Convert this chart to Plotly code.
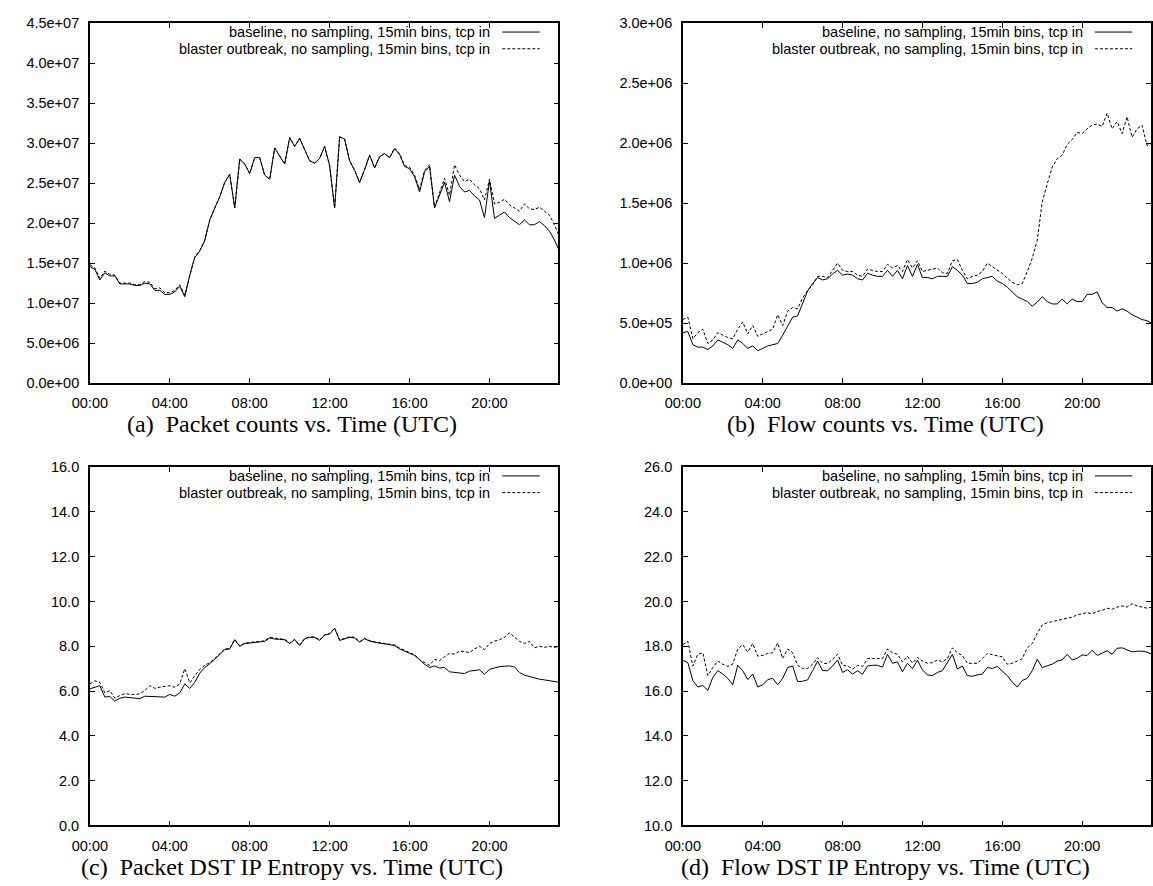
import plotly.graph_objects as go

# ---------------- data (96 bins of 15 min, 00:00 .. 23:45) ----------------
bin_hours = [i * 0.25 for i in range(96)]
time_ticks = [0, 4, 8, 12, 16, 20]
time_labels = ["00:00", "04:00", "08:00", "12:00", "16:00", "20:00"]

# (a) packet counts, in millions
pkt_base = [14.6, 14.2, 12.9, 13.8, 13.4, 13.4, 12.4, 12.4, 12.4, 12.2, 12.2, 12.5, 12.4, 11.6, 11.6, 11.1,
            11.1, 11.4, 12.1, 10.8, 13.5, 15.7, 16.5, 17.8, 20.4, 21.9, 23.3, 25.1, 26.1, 21.9, 28.0, 27.4,
            26.2, 28.2, 28.2, 26.0, 25.5, 29.4, 28.4, 27.4, 30.7, 29.6, 30.6, 29.2, 27.8, 27.5, 28.1, 29.6,
            27.2, 21.9, 30.8, 30.5, 27.8, 26.6, 25.1, 26.7, 28.5, 26.9, 28.3, 28.7, 28.2, 29.3, 28.6, 27.1,
            26.8, 25.8, 23.9, 26.4, 27.1, 21.9, 23.5, 25.1, 22.7, 26.0, 24.6, 23.9, 24.1, 23.4, 22.9, 20.7,
            25.3, 20.6, 21.0, 21.4, 20.7, 20.2, 19.8, 20.4, 19.8, 19.8, 20.2, 19.7, 19.0, 17.9, 16.5, 16.3]
pkt_blaster = [14.8, 14.4, 13.1, 14.0, 13.6, 13.5, 12.5, 12.5, 12.5, 12.3, 12.3, 12.7, 12.6, 11.8, 11.9, 11.3,
               11.3, 11.6, 12.3, 11.0, 13.6, 15.8, 16.6, 17.9, 20.4, 21.9, 23.3, 25.1, 26.1, 21.9, 28.0, 27.4,
               26.2, 28.2, 28.2, 26.0, 25.5, 29.4, 28.4, 27.4, 30.7, 29.6, 30.6, 29.2, 27.8, 27.5, 28.1, 29.6,
               27.2, 21.9, 30.8, 30.5, 27.8, 26.6, 25.1, 26.7, 28.5, 26.9, 28.3, 28.7, 28.2, 29.4, 28.7, 27.2,
               27.0, 26.0, 24.2, 26.6, 27.3, 22.0, 23.7, 25.6, 23.5, 27.3, 26.0, 25.2, 25.5, 24.8, 24.3, 22.9,
               25.5, 22.4, 22.6, 23.0, 22.3, 21.9, 21.5, 22.4, 21.8, 21.7, 22.0, 21.5, 21.0, 19.8, 18.3, 18.0]

# (b) flow counts, in millions
flow_base = [0.42, 0.43, 0.32, 0.30, 0.30, 0.28, 0.31, 0.36, 0.34, 0.32, 0.29, 0.36, 0.33, 0.29, 0.31, 0.27,
             0.29, 0.31, 0.32, 0.33, 0.40, 0.47, 0.55, 0.56, 0.66, 0.77, 0.83, 0.88, 0.86, 0.87, 0.91, 0.94,
             0.90, 0.91, 0.90, 0.87, 0.86, 0.915, 0.90, 0.89, 0.89, 0.94, 0.89, 0.94, 0.87, 0.98, 0.89, 0.99,
             0.88, 0.88, 0.87, 0.89, 0.89, 0.89, 0.97, 0.94, 0.90, 0.83, 0.83, 0.84, 0.87, 0.88, 0.89, 0.85,
             0.83, 0.80, 0.76, 0.72, 0.70, 0.68, 0.64, 0.675, 0.72, 0.68, 0.66, 0.66, 0.70, 0.66, 0.70, 0.68,
             0.68, 0.74, 0.74, 0.76, 0.67, 0.63, 0.63, 0.60, 0.62, 0.60, 0.57, 0.55, 0.53, 0.52, 0.50, 0.49]
flow_blaster = [0.53, 0.55, 0.37, 0.42, 0.45, 0.33, 0.36, 0.42, 0.40, 0.38, 0.37, 0.45, 0.51, 0.41, 0.48, 0.39,
                0.41, 0.43, 0.45, 0.57, 0.48, 0.60, 0.63, 0.62, 0.71, 0.77, 0.82, 0.89, 0.89, 0.88, 0.94, 1.00,
                0.94, 0.93, 0.93, 0.90, 0.89, 0.95, 0.94, 0.93, 0.93, 0.99, 0.96, 0.98, 0.93, 1.03, 0.96, 1.02,
                0.93, 0.94, 0.95, 0.96, 0.92, 0.915, 1.02, 1.03, 0.94, 0.87, 0.89, 0.90, 0.93, 1.00, 0.97, 0.94,
                0.915, 0.875, 0.84, 0.82, 0.83, 0.93, 1.04, 1.19, 1.51, 1.66, 1.80, 1.87, 1.90, 1.99, 2.03, 2.09,
                2.08, 2.12, 2.15, 2.16, 2.14, 2.25, 2.12, 2.18, 2.08, 2.22, 2.05, 2.12, 2.15, 1.98, 2.00, 1.98]

# (c) packet destination IP entropy
pent_base = [6.10, 6.17, 6.24, 5.73, 5.76, 5.55, 5.68, 5.73, 5.70, 5.68, 5.66, 5.77, 5.76, 5.76, 5.74, 5.73,
             5.85, 5.77, 5.92, 6.32, 6.12, 6.39, 6.80, 7.05, 7.22, 7.41, 7.63, 7.85, 7.88, 8.29, 8.00, 8.12,
             8.15, 8.18, 8.19, 8.22, 8.37, 8.32, 8.31, 8.29, 8.12, 8.29, 8.03, 8.33, 8.40, 8.40, 8.26, 8.50,
             8.55, 8.80, 8.26, 8.32, 8.40, 8.37, 8.18, 8.34, 8.23, 8.18, 8.15, 8.12, 8.09, 8.03, 7.88, 7.78,
             7.68, 7.59, 7.41, 7.19, 7.05, 7.12, 7.03, 7.05, 6.86, 6.83, 6.83, 6.78, 6.89, 6.93, 6.95, 6.75,
             6.97, 7.03, 7.09, 7.11, 7.12, 7.08, 6.83, 6.71, 6.65, 6.56, 6.53, 6.50, 6.46, 6.45, 6.40, 6.35]
pent_blaster = [6.32, 6.46, 6.39, 5.92, 6.02, 5.68, 5.80, 5.88, 5.86, 5.85, 5.88, 6.02, 6.24, 6.12, 6.17, 6.20,
                6.24, 6.17, 6.32, 7.00, 6.36, 6.68, 6.97, 7.15, 7.27, 7.45, 7.66, 7.88, 7.90, 8.31, 8.02, 8.14,
                8.17, 8.20, 8.21, 8.24, 8.40, 8.35, 8.33, 8.31, 8.14, 8.31, 8.05, 8.35, 8.42, 8.42, 8.28, 8.52,
                8.57, 8.82, 8.28, 8.35, 8.43, 8.40, 8.20, 8.36, 8.25, 8.20, 8.17, 8.14, 8.12, 8.06, 7.92, 7.82,
                7.72, 7.62, 7.40, 7.27, 7.15, 7.41, 7.36, 7.53, 7.68, 7.65, 7.78, 7.77, 7.71, 7.88, 8.00, 7.85,
                8.12, 8.23, 8.29, 8.40, 8.60, 8.41, 8.22, 8.12, 8.22, 7.93, 8.00, 7.95, 8.00, 7.95, 8.00, 7.95]

# (d) flow destination IP entropy
fent_base = [17.37, 17.27, 16.47, 16.18, 16.25, 16.03, 16.61, 16.91, 16.76, 16.57, 16.28, 17.15, 16.91, 16.51, 16.76, 16.18,
             16.28, 16.51, 16.57, 16.28, 16.57, 17.05, 17.12, 16.42, 16.44, 16.50, 16.91, 17.34, 16.91, 16.91, 17.12, 17.39,
             16.83, 16.95, 16.76, 16.91, 16.75, 17.12, 17.15, 17.15, 17.07, 17.64, 17.24, 17.30, 16.86, 17.24, 17.00, 17.38,
             16.95, 16.72, 16.69, 16.83, 16.91, 17.27, 17.64, 16.98, 17.12, 16.69, 16.66, 16.72, 16.76, 17.05, 17.01, 17.10,
             16.91, 16.69, 16.40, 16.18, 16.47, 16.57, 16.91, 17.42, 17.05, 17.12, 17.20, 17.34, 17.39, 17.64, 17.39, 17.46,
             17.61, 17.59, 17.82, 17.59, 17.71, 17.80, 17.64, 17.91, 17.93, 17.85, 17.75, 17.78, 17.78, 17.74, 17.64, 17.53]
fent_blaster = [18.07, 18.22, 17.12, 17.64, 17.71, 16.69, 17.05, 17.34, 17.20, 17.10, 17.20, 17.88, 18.07, 17.74, 18.12, 17.56,
                17.59, 17.68, 17.71, 18.15, 17.45, 17.88, 17.71, 17.15, 17.01, 17.01, 17.20, 17.49, 17.24, 17.23, 17.42, 17.64,
                17.15, 17.12, 16.98, 17.15, 17.10, 17.45, 17.45, 17.45, 17.45, 17.88, 17.71, 17.64, 17.30, 17.56, 17.25, 17.50,
                17.34, 17.24, 17.27, 17.39, 17.30, 17.45, 17.93, 17.71, 17.59, 17.24, 17.24, 17.24, 17.45, 17.68, 17.62, 17.56,
                17.53, 17.20, 17.24, 17.34, 17.45, 17.93, 18.12, 18.58, 18.95, 19.05, 19.10, 19.15, 19.20, 19.25, 19.30, 19.40,
                19.45, 19.50, 19.45, 19.55, 19.60, 19.70, 19.65, 19.75, 19.80, 19.75, 19.90, 19.80, 19.75, 19.70, 19.75, 19.70]

pkt_ticks = [0, 5, 10, 15, 20, 25, 30, 35, 40, 45]
pkt_labels = ["0.0e+00", "5.0e+06", "1.0e+07", "1.5e+07", "2.0e+07", "2.5e+07", "3.0e+07", "3.5e+07", "4.0e+07", "4.5e+07"]
flow_ticks = [0, 0.5, 1.0, 1.5, 2.0, 2.5, 3.0]
flow_labels = ["0.0e+00", "5.0e+05", "1.0e+06", "1.5e+06", "2.0e+06", "2.5e+06", "3.0e+06"]
pent_ticks = [0, 2, 4, 6, 8, 10, 12, 14, 16]
pent_labels = ["0.0", "2.0", "4.0", "6.0", "8.0", "10.0", "12.0", "14.0", "16.0"]
fent_ticks = [10, 12, 14, 16, 18, 20, 22, 24, 26]
fent_labels = ["10.0", "12.0", "14.0", "16.0", "18.0", "20.0", "22.0", "24.0", "26.0"]

legend_base = "baseline, no sampling, 15min bins, tcp in"
legend_blaster = "blaster outbreak, no sampling, 15min bins, tcp in"
captions = ["(a)\u00a0 Packet counts vs. Time (UTC)", "(b)\u00a0 Flow counts vs. Time (UTC)",
            "(c)\u00a0 Packet DST IP Entropy vs. Time (UTC)", "(d)\u00a0 Flow DST IP Entropy vs. Time (UTC)"]

# ---------------- layout ----------------
W, H = 1153, 886
def fx(p): return p / W
def fy(p): return 1 - p / H

COLS = [(73, 549), (675.4, 1151)]
ROWS = [(15.5, 382), (467.5, 832.5)]
XMAX = 23.45

panels = [
    dict(base=pkt_base, bl=pkt_blaster, tv=pkt_ticks, tt=pkt_labels, rng=[0, 45], col=0, row=0),
    dict(base=flow_base, bl=flow_blaster, tv=flow_ticks, tt=flow_labels, rng=[0, 3.0], col=1, row=0),
    dict(base=pent_base, bl=pent_blaster, tv=pent_ticks, tt=pent_labels, rng=[0, 16], col=0, row=1),
    dict(base=fent_base, bl=fent_blaster, tv=fent_ticks, tt=fent_labels, rng=[10, 26], col=1, row=1),
]

TICKFONT = dict(family="Liberation Sans, Arial, sans-serif", size=14.5, color="black")
fig = go.Figure()
layout = dict(width=W, height=H, margin=dict(l=0, r=0, t=0, b=0), autosize=False,
              plot_bgcolor="white", paper_bgcolor="white", showlegend=False)
annotations, shapes = [], []

for k, p in enumerate(panels):
    n = "" if k == 0 else str(k + 1)
    xl, xr = COLS[p["col"]]
    yt, yb = ROWS[p["row"]]
    common = dict(showline=True, mirror="ticks", linecolor="black", linewidth=1.5,
                  ticks="inside", ticklen=5, tickwidth=1, tickcolor="black",
                  showgrid=False, zeroline=False, tickfont=TICKFONT, fixedrange=True)
    layout["xaxis" + n] = dict(domain=[fx(xl), fx(xr)], range=[0, XMAX], anchor="y" + n,
                               tickvals=time_ticks, ticktext=time_labels, ticklabelstandoff=6, **common)
    layout["yaxis" + n] = dict(domain=[fy(yb), fy(yt)], range=p["rng"], anchor="x" + n,
                               tickvals=p["tv"], ticktext=p["tt"], ticklabelstandoff=6, **common)
    fig.add_trace(go.Scatter(x=bin_hours, y=p["base"], mode="lines", xaxis="x" + n, yaxis="y" + n,
                             line=dict(color="black", width=1), name=legend_base))
    fig.add_trace(go.Scatter(x=bin_hours, y=p["bl"], mode="lines", xaxis="x" + n, yaxis="y" + n,
                             line=dict(color="black", width=1, dash="3px,2px"), name=legend_blaster))
    # gnuplot-style key (text right-aligned, sample on the right)
    for j, (txt, dash) in enumerate([(legend_base, "solid"), (legend_blaster, "3px,2px")]):
        ry = yt + 9 + j * 17
        annotations.append(dict(x=fx(xr - 67), y=fy(ry), xref="paper", yref="paper", text=txt,
                                showarrow=False, xanchor="right", yanchor="middle",
                                font=dict(family="Liberation Sans, Arial, sans-serif", size=14.5, color="black")))
        shapes.append(dict(type="line", xref="paper", yref="paper", x0=fx(xr - 57), x1=fx(xr - 19),
                           y0=fy(ry), y1=fy(ry), line=dict(color="black", width=1, dash=dash)))
    # caption
    annotations.append(dict(x=fx(xl + 205.5), y=fy(yb + 42), xref="paper", yref="paper", text=captions[k],
                            showarrow=False, xanchor="center", yanchor="middle",
                            font=dict(family="Liberation Serif, Times New Roman, serif", size=24, color="black")))

layout["annotations"] = annotations
layout["shapes"] = shapes
fig.update_layout(**layout)
fig.write_html("out.html")
